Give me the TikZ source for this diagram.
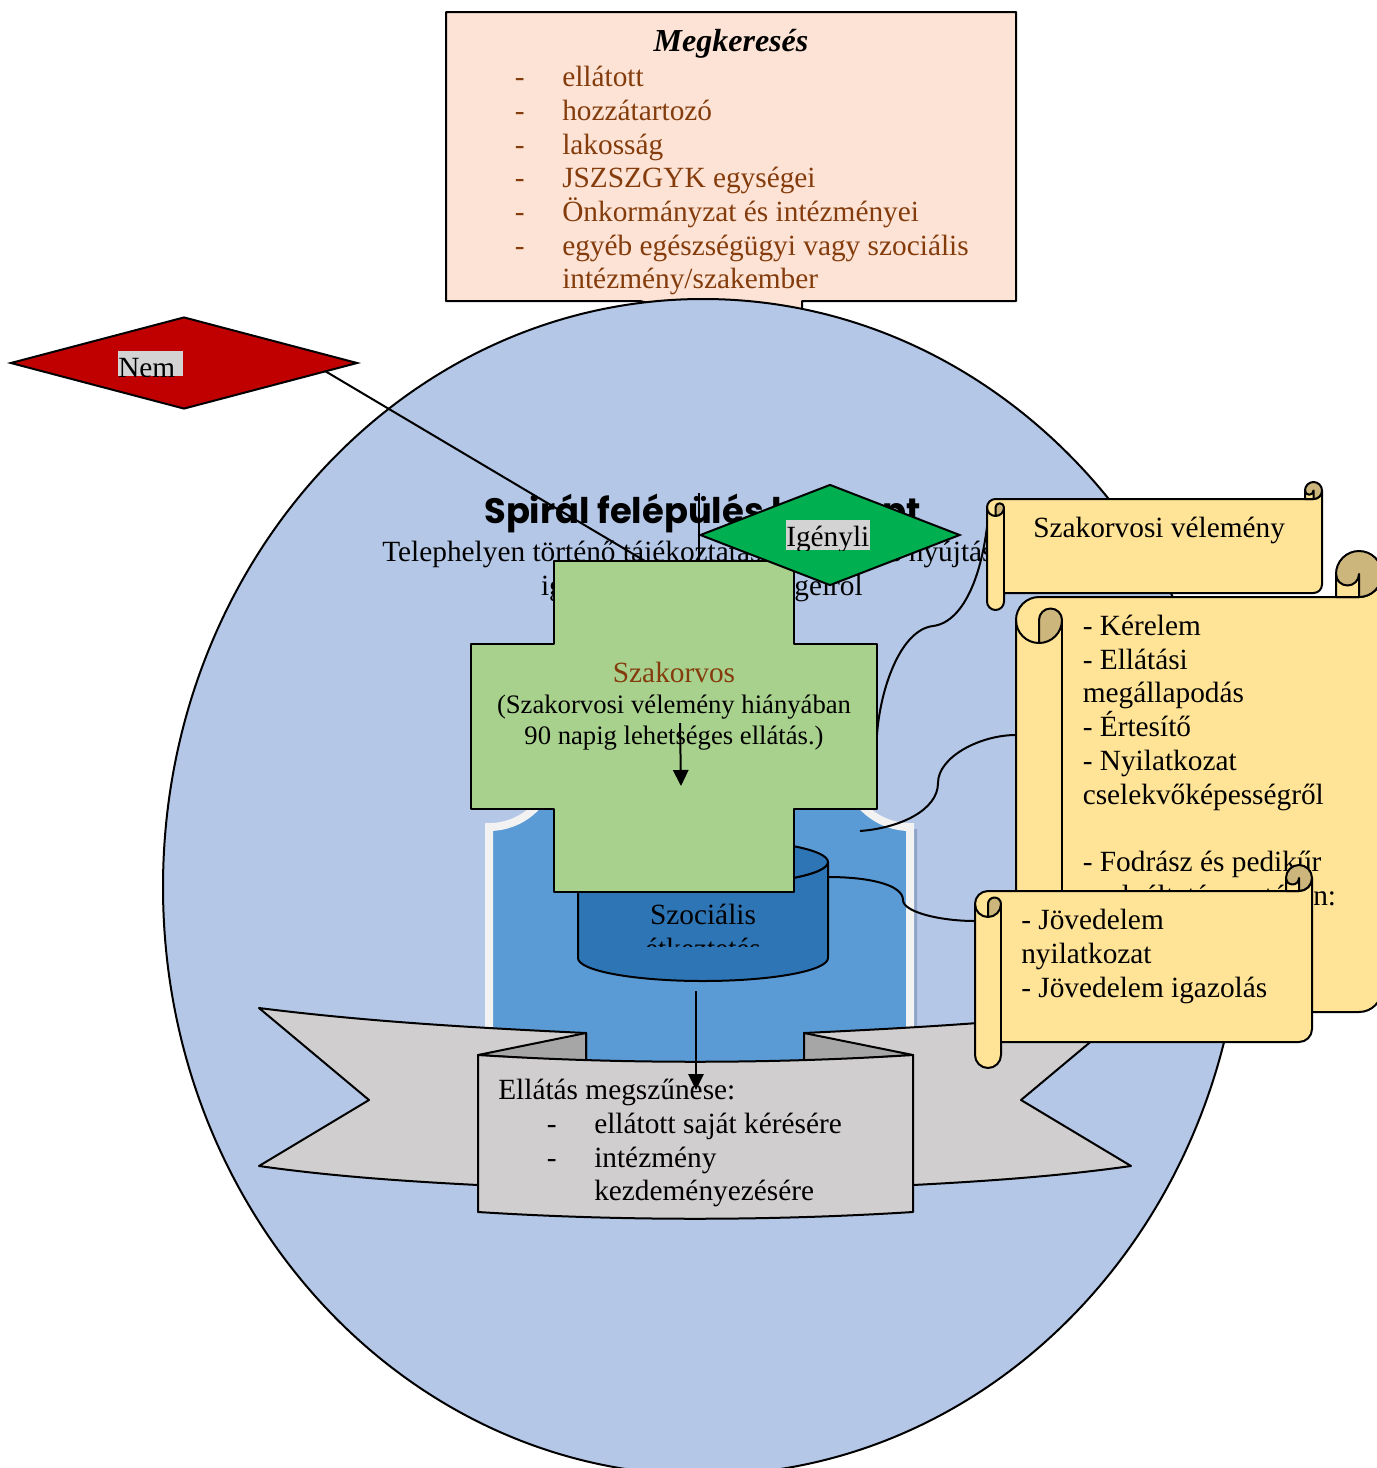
\documentclass[tikz,border=0pt]{standalone}
\usepackage{fontspec}
\setmainfont{Liberation Serif}
\newfontfamily\titlefont{Poppins}
\usepackage{xcolor}
\usepackage{tikz}
\usetikzlibrary{arrows.meta, shapes.geometric}
\definecolor{skyblue}{HTML}{B4C7E7}
\definecolor{peach}{HTML}{FDE3D5}
\definecolor{rust}{HTML}{843C0C}
\definecolor{crossgreen}{HTML}{A9D18E}
\definecolor{plaqueblue}{HTML}{5B9BD5}
\definecolor{shadowblue}{HTML}{8EA3C8}
\definecolor{drumblue}{HTML}{2E75B6}
\definecolor{paper}{HTML}{FFE396}
\definecolor{curl}{HTML}{CCB67C}
\definecolor{ribbon}{HTML}{D0CECE}
\definecolor{foldgray}{HTML}{A6A6A6}
\definecolor{hlgray}{HTML}{D3D3D3}
\definecolor{nored}{HTML}{C00000}
\definecolor{yesgreen}{HTML}{00B050}
\tikzset{
    txt/.style={anchor=base west, inner sep=0pt, font=\fontsize{22}{25.3}\selectfont},
    smalltxt/.style={anchor=base, inner sep=0pt, font=\fontsize{20}{23}\selectfont},
    outline/.style={draw=black, line width=1.5pt, line join=round},
    link/.style={draw=black, line width=1.5pt},
    tip/.style={-{Triangle[length=12pt,width=11.5pt]}},
    choice/.style={diamond, draw=black, line width=1.5pt, inner sep=0pt, text opacity=0}
}
% #1 left, #2 body top, #3 right, #4 body bottom, #5 curl radius
\newcommand{\scrollshape}[5]{
    \draw [outline, fill=paper] (#1, #2+#5) arc [start angle=180, end angle=270, x radius=#5, y radius=#5]
        -- (#3-#5, #2) arc [start angle=90, end angle=0, x radius=#5, y radius=#5]
        -- (#3, #4-#5) arc [start angle=0, end angle=90, x radius=#5, y radius=#5]
        -- (#1+2*#5, #4) -- (#1+2*#5, #4+#5) arc [start angle=0, end angle=180, x radius=#5, y radius=#5] -- cycle;
    % right curl
    \draw [outline, fill=curl] (#3-#5, #2-#5) circle [x radius=#5, y radius=#5];
    \draw [outline, fill=paper] (#3-2*#5, #2-#5) arc [start angle=180, end angle=0, x radius=#5/2, y radius=#5/2]
        -- (#3-#5, #2) -- (#3-2*#5, #2) -- cycle;
    % left curl
    \draw [outline, fill=curl] (#1+#5, #2+2*#5) arc [start angle=90, end angle=0, x radius=#5, y radius=#5]
        arc [start angle=0, end angle=-180, x radius=#5/2, y radius=#5/2] -- cycle;
    \draw [outline] (#1, #2+#5) arc [start angle=180, end angle=90, x radius=#5, y radius=#5];
    \draw [outline] (#1+2*#5, #2+#5) -- (#1+2*#5, #4);
}

\begin{document}
\begin{tikzpicture}[x=0.75pt, y=-0.75pt]
    \useasboundingbox (0, 0) rectangle (1377, 1468);
    \clip (0, 0) rectangle (1377, 1468);
    % Request box
    \draw [outline, fill=peach] (446, 12) -- (1016, 12) -- (1016, 301) -- (802, 301) -- (802, 340) -- (640, 301) -- (446, 301) -- cycle;
    \node [txt, anchor=base, font=\fontsize{24}{25.3}\selectfont\bfseries\itshape] (reqtitle) at (731, 51) {Megkeresés};
    \foreach \yline/\label in {86/ellátott, 120/hozzátartozó, 154/lakosság, 187/JSZSZGYK egységei,
        221/Önkormányzat és intézményei, 255/egyéb egészségügyi vagy szociális} {
        \node [txt, text=rust] at (514.5, \yline) {-};
        \node [txt, text=rust] at (562, \yline) {\label};
    }
    \node [txt, text=rust] (reqlast) at (562, 288) {intézmény/szakember};
    % Big circle
    \draw [outline, fill=skyblue] (703, 887) ellipse [x radius=540, y radius=588];
    % Plaque with shadow and white rim
    \fill [fill=shadowblue] (496, 829) arc [start angle=90, end angle=0, x radius=65, y radius=65] -- (852, 764)
        arc [start angle=180, end angle=90, x radius=65, y radius=65] -- (917, 1150) -- (496, 1150) -- cycle;
    \draw [draw=white!95!black, line width=6pt, fill=plaqueblue] (489, 827) arc [start angle=90, end angle=0, x radius=65, y radius=65] -- (845, 762)
        arc [start angle=180, end angle=90, x radius=65, y radius=65] -- (910, 1150) -- (489, 1150) -- cycle;
    % Title lines
    \node [txt, font=\titlefont\fontsize{26.5}{30}\selectfont\bfseries] (title) at (484, 523) {Spirál felépülés koncept};
    \node [txt] (subone) at (382, 561) {Telephelyen történő tájékoztatás, tanácsadás nyújtás};
    \node [txt, anchor=base east] (subtwo) at (863, 595) {igénybevétel lehetőségeiről};
    % Big scroll
    \scrollshape{1016}{597}{1382}{1012}{23}
    \foreach \yline/\label in {635/- Kérelem, 669/- Ellátási, 702/megállapodás, 736/- Értesítő, 770/- Nyilatkozat,
        804/cselekvőképességről, 871/- Fodrász és pedikűr, 905/szolgáltatás esetében:} {
        \node [txt] at (1082.5, \yline) {\label};
    }
    % Drum
    \draw [outline, fill=drumblue] (578, 862) -- (578, 958) arc [start angle=180, end angle=0, x radius=125, y radius=23]
        -- (828, 862) arc [start angle=0, end angle=180, x radius=125, y radius=23] -- cycle;
    \draw [outline, fill=drumblue] (703, 862) ellipse [x radius=125, y radius=23];
    \node [txt, anchor=base] (drumone) at (703, 924) {Szociális};
    \begin{scope}
        \clip (600, 900) rectangle (800, 946);
        \node [txt, anchor=base] (drumtwo) at (703, 958) {étkeztetés};
    \end{scope}
    % Anchors of the links
    \coordinate (drumside) at (828, 877);
    \coordinate (plaquein) at (860, 831);
    \coordinate (crossside) at (877, 735);
    \coordinate (crosstop) at (699, 561);
    \coordinate (vlinetop) at (699, 493);
    \coordinate (bigleft) at (1016, 735);
    \coordinate (specleft) at (989, 505);
    \coordinate (incomeleft) at (975, 921);
    \draw [link] (plaquein) .. controls (900, 828) and (938, 810) .. (938, 783) .. controls (938, 757) and (980, 735) .. (bigleft);
    \draw [link] (drumside) .. controls (870, 877) and (903, 885) .. (903, 900) .. controls (903, 912) and (940, 921) .. (incomeleft);
    \draw [link] (crossside) .. controls (880, 690) and (900, 630) .. (933, 626) .. controls (965, 622) and (985, 570) .. (specleft);
    % Diamonds and lines into the cross
    \node [choice, fill=nored, minimum width=260.25pt, minimum height=69pt] (no) at (184, 363) {};
    \draw [link] (325, 371) -- (645, 561);
    \draw [link, line width=1pt] (vlinetop) -- (crosstop);
    % Cross
    \draw [outline, fill=crossgreen] (554, 561) -- (794, 561) -- (794, 644) -- (877, 644) -- (877, 809) -- (794, 809) -- (794, 892)
        -- (554, 892) -- (554, 809) -- (471, 809) -- (471, 644) -- (554, 644) -- cycle;
    \node [txt, anchor=base, text=rust] (doc) at (674, 682) {Szakorvos};
    \node [smalltxt] (docone) at (674, 713) {(Szakorvosi vélemény hiányában};
    \node [smalltxt] (doctwo) at (674, 744) {90 napig lehetséges ellátás.)};
    \draw [link, tip] (680, 723) -- (681, 786);
    % Yes diamond
    \node [choice, fill=yesgreen, minimum width=195pt, minimum height=75.75pt] (yes) at (830, 535) {};
    \begin{scope}
        \clip (118, 351) rectangle (183, 376);
        \fill [hlgray] (118, 351) rectangle (183, 376);
        \node [txt] (nolabel) at (118, 377) {Nem};
    \end{scope}
    \begin{scope}
        \clip (786, 520) rectangle (870, 550);
        \fill [hlgray] (786, 520) rectangle (870, 550);
        \node [txt] (yeslabel) at (786, 546) {Igényli};
    \end{scope}
    % Small scroll at the top
    \scrollshape{987}{499}{1322}{593}{8.5}
    \node [txt] (spec) at (1033, 537) {Szakorvosi vélemény};
    % Ribbon
    \draw [outline, fill=ribbon] (586, 1033) .. controls (480, 1028) and (370, 1022) .. (259, 1008) -- (369, 1100) -- (259, 1166)
        .. controls (330, 1176) and (400, 1181) .. (478, 1185) -- (586, 1185) -- cycle;
    \draw [outline, fill=ribbon] (804, 1033) .. controls (910, 1028) and (1020, 1022) .. (1131, 1008) -- (1021, 1100) -- (1131, 1166)
        .. controls (1060, 1176) and (990, 1181) .. (913, 1185) -- (804, 1185) -- cycle;
    \draw [outline, fill=foldgray] (586, 1033) -- (478, 1055) -- (586, 1062) -- cycle;
    \draw [outline, fill=foldgray] (804, 1033) -- (913, 1055) -- (804, 1062) -- cycle;
    \draw [outline, fill=ribbon] (478, 1055) .. controls (620, 1064) and (770, 1064) .. (913, 1055) -- (913, 1212)
        .. controls (770, 1221) and (620, 1221) .. (478, 1212) -- cycle;
    \node [txt] (endtitle) at (498, 1099) {Ellátás megszűnése:};
    \node [txt] at (546.5, 1133) {-};
    \node [txt] (endone) at (594, 1133) {ellátott saját kérésére};
    \node [txt] at (546.5, 1167) {-};
    \node [txt] (endtwo) at (594, 1167) {intézmény};
    \node [txt] (endthree) at (594, 1200) {kezdeményezésére};
    \coordinate (drumbelow) at (696, 991);
    \coordinate (ribbonin) at (696, 1090);
    \draw [link, tip] (drumbelow) -- (ribbonin);
    % Income scroll
    \scrollshape{975}{891}{1312}{1042}{13}
    \node [txt] (incone) at (1021, 929) {- Jövedelem};
    \node [txt] (inctwo) at (1021, 963) {nyilatkozat};
    \node [txt] (incthree) at (1021, 997) {- Jövedelem igazolás};
\end{tikzpicture}
\end{document}
